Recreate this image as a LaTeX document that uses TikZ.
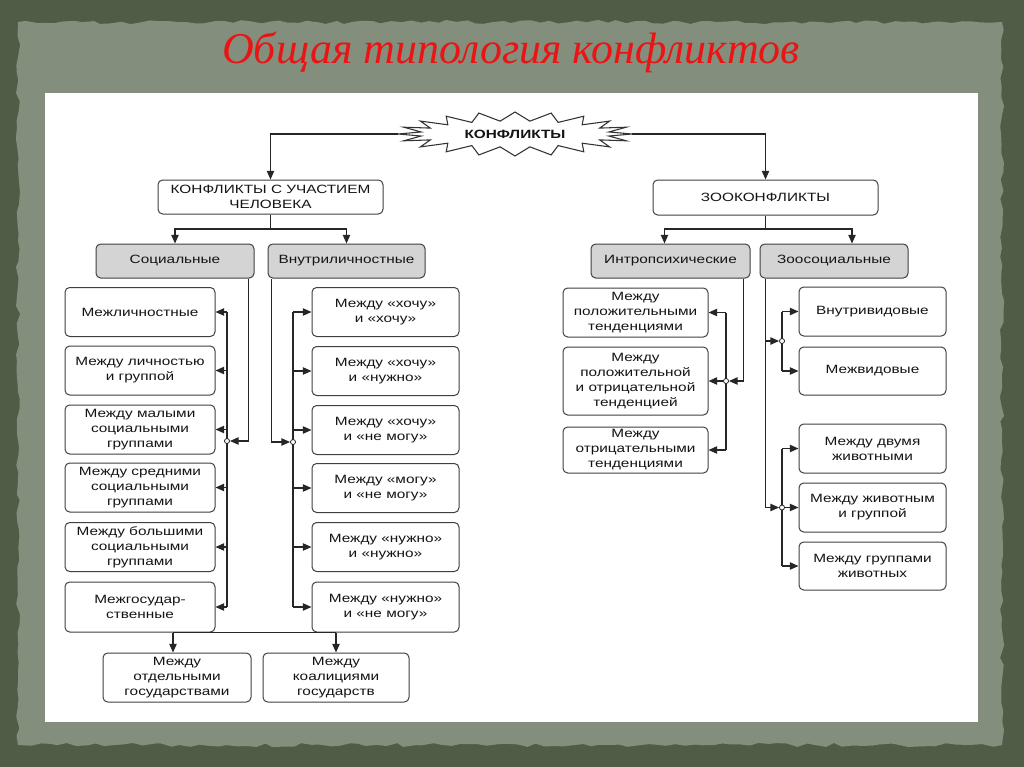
\documentclass[tikz,border=0pt]{standalone}
\usepackage{fontspec}
\usetikzlibrary{arrows.meta,calc,decorations.pathmorphing}
\newfontfamily\bxf[FakeStretch=1.28]{Liberation Sans}
\newfontfamily\ttlf{Liberation Serif}
\definecolor{outerbg}{RGB}{80,93,70}
\definecolor{paperbg}{RGB}{132,142,124}
\definecolor{ttlred}{RGB}{235,20,20}
\begin{document}
\begin{tikzpicture}[x=0.75pt,y=-0.75pt,
  wh/.style 2 args={minimum width=#1*0.75pt,minimum height=#2*0.75pt},
  box/.style={draw=black!75,line width=0.75pt,rounded corners=3.5pt,fill=white,align=center,
     text=black!92,font=\bxf\fontsize{9}{11.25}\selectfont,inner sep=0pt},
  gbox/.style={box,fill=black!17},
  ln/.style={line width=0.95pt,black!85},
  arr/.style={ln,-{Triangle[length=6.5pt,width=5.5pt]}},
  jdot/.style={circle,draw=black!85,fill=white,inner sep=0pt,minimum size=3.8pt,line width=0.6pt},
  burst/.style={draw=black!80,line width=0.8pt,fill=white,line join=miter}]
\useasboundingbox (0,0) rectangle (1024,767);
% background
\fill[outerbg] (0,0) rectangle (1024,767);
\fill[paperbg,decorate,decoration={random steps,segment length=7pt,amplitude=1.6pt}]
  (18,22) -- (1002,22) -- (1002,745) -- (18,745) -- cycle;
\fill[white] (45,93) rectangle (978,722);
% title
\node[anchor=base,text=ttlred,font=\ttlf\itshape\fontsize{33}{40}\selectfont] (title) at (511,64) {Общая типология конфликтов};
% starburst
\begin{scope}[shift={(515,134)}]
\draw[burst] (0:117 and 22) \foreach \k in {1,...,19} { -- ({\k*18-9}:95 and 13) -- ({\k*18}:117 and 22) } -- (351:95 and 13) -- cycle;
\end{scope}
\node[wh={234}{40},inner sep=0pt,text=black!92,font=\bxf\bfseries\fontsize{9}{11}\selectfont] (konf) at (515,134) {КОНФЛИКТЫ};
% level 1
\node[box,wh={225}{34}] (hum) at (270.5,197) {КОНФЛИКТЫ С УЧАСТИЕМ\\ЧЕЛОВЕКА};
\node[box,wh={225}{35}] (zoo) at (765.5,197.5) {ЗООКОНФЛИКТЫ};
% level 2
\node[gbox,wh={158}{34}] (soc) at (175,261) {Социальные};
\node[gbox,wh={157}{34}] (vnl) at (346.5,261) {Внутриличностные};
\node[gbox,wh={159}{34}] (intr) at (670.5,261) {Интропсихические};
\node[gbox,wh={148}{34}] (zsoc) at (834,261) {Зоосоциальные};
% social
\node[box,wh={150}{49}] (s1) at (140,312) {Межличностные};
\node[box,wh={150}{49}] (s2) at (140,370.5) {Между личностью\\и группой};
\node[box,wh={150}{49}] (s3) at (140,429.5) {Между малыми\\социальными\\группами};
\node[box,wh={150}{49}] (s4) at (140,487.5) {Между средними\\социальными\\группами};
\node[box,wh={150}{49}] (s5) at (140,547) {Между большими\\социальными\\группами};
\node[box,wh={150}{50}] (s6) at (140,607) {Межгосудар-\\ственные};
% intrapersonal
\node[box,wh={147}{49}] (v1) at (385.5,312) {Между «хочу»\\и «хочу»};
\node[box,wh={147}{49}] (v2) at (385.5,371) {Между «хочу»\\и «нужно»};
\node[box,wh={147}{49}] (v3) at (385.5,430) {Между «хочу»\\и «не могу»};
\node[box,wh={147}{49}] (v4) at (385.5,488) {Между «могу»\\и «не могу»};
\node[box,wh={147}{49}] (v5) at (385.5,547) {Между «нужно»\\и «нужно»};
\node[box,wh={147}{50}] (v6) at (385.5,607) {Между «нужно»\\и «не могу»};
% states
\node[box,wh={148}{49}] (b1) at (177,677.5) {Между\\отдельными\\государствами};
\node[box,wh={146}{49}] (b2) at (336,677.5) {Между\\коалициями\\государств};
% intrapsychic
\node[box,wh={145}{49}] (p1) at (635.5,312.5) {Между\\положительными\\тенденциями};
\node[box,wh={145}{68}] (p2) at (635.5,381) {Между\\положительной\\и отрицательной\\тенденцией};
\node[box,wh={145}{46}] (p3) at (635.5,450) {Между\\отрицательными\\тенденциями};
% zoosocial
\node[box,wh={147}{49}] (z1) at (872.5,311.5) {Внутривидовые};
\node[box,wh={147}{48}] (z2) at (872.5,371) {Межвидовые};
\node[box,wh={147}{49}] (z3) at (872.5,448.5) {Между двумя\\животными};
\node[box,wh={147}{49}] (z4) at (872.5,507.5) {Между животным\\и группой};
\node[box,wh={147}{48}] (z5) at (872.5,566) {Между группами\\животных};
% top connectors
\draw[arr] (konf.west) -| (hum.north);
\draw[arr] (konf.east) -| (zoo.north);
\coordinate (hj) at (hum.south |- 0,229);
\draw[ln] (hum.south) -- (hj);
\draw[arr] (hj) -| (soc.north);
\draw[arr] (hj) -| (vnl.north);
\coordinate (zj) at (zoo.south |- 0,229);
\draw[ln] (zoo.south) -- (zj);
\coordinate (intrN) at ($(intr.north)+(-6,0)$);
\coordinate (zsocN) at ($(zsoc.north)+(18,0)$);
\draw[arr] (zj) -| (intrN);
\draw[arr] (zj) -| (zsocN);
% social bus
\coordinate (sbus) at (227,441);
\draw[ln] (sbus |- s1.east) -- (sbus |- s6.east);
\foreach \n in {s1,s2,s3,s4,s5,s6} \draw[arr] (sbus |- \n.east) -- (\n.east);
\node[jdot] (sc) at (sbus) {};
\coordinate (st) at ($(soc.south east)+(-6,0)$);
\draw[arr] (st) |- (sc.east);
% intrapersonal bus
\coordinate (vbus) at (293,442);
\draw[ln] (vbus |- v1.west) -- (vbus |- v6.west);
\foreach \n in {v1,v2,v3,v4,v5,v6} \draw[arr] (vbus |- \n.west) -- (\n.west);
\node[jdot] (vc) at (vbus) {};
\coordinate (vt) at ($(vnl.south west)+(4,0)$);
\draw[arr] (vt) |- (vc.west);
% states
\coordinate (gL) at ($(s6.south)+(33,0)$);
\coordinate (gR) at (b2.north |- gL);
\draw[ln] (gL) -- (gR);
\draw[arr] (gL) -- (gL |- b1.north);
\draw[arr] (gR) -- (b2.north);
% intrapsychic bus
\coordinate (ibus) at (726,381);
\draw[ln] (ibus |- p1.east) -- (ibus |- p3.east);
\foreach \n in {p1,p2,p3} \draw[arr] (ibus |- \n.east) -- (\n.east);
\node[jdot] (ic) at (ibus) {};
\coordinate (it) at ($(intr.south east)+(-7,0)$);
\draw[arr] (it) |- (ic.east);
% zoosocial
\coordinate (zbusA) at (782,341);
\coordinate (zbusB) at (782,507.5);
\coordinate (zt) at ($(zsoc.south west)+(6,0)$);
\draw[ln] (zt) -- (zt |- zbusB);
\draw[ln] (zbusA |- z1.west) -- (zbusA |- z2.west);
\draw[ln] (zbusB |- z3.west) -- (zbusB |- z5.west);
\foreach \n in {z1,z2} \draw[arr] (zbusA |- \n.west) -- (\n.west);
\foreach \n in {z3,z4,z5} \draw[arr] (zbusB |- \n.west) -- (\n.west);
\node[jdot] (zc1) at (zbusA) {};
\node[jdot] (zc2) at (zbusB) {};
\draw[arr] (zt |- zbusA) -- (zc1.west);
\draw[arr] (zt |- zbusB) -- (zc2.west);
\end{tikzpicture}
\end{document}
